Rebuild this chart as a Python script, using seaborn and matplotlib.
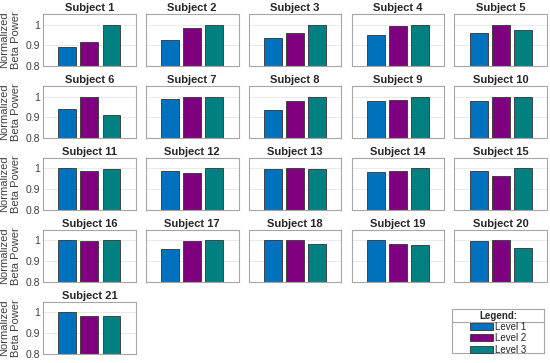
import numpy as np
import pandas as pd
import matplotlib
matplotlib.use("Agg")
import matplotlib.pyplot as plt
from matplotlib.patches import Patch
import seaborn as sns

# ===========================================================
# Data (normalized beta power per level)
# ===========================================================
subjects = [f"Subject {i}" for i in range(1, 22)]
levels = ["Level 1", "Level 2", "Level 3"]

level1 = [0.890, 0.924, 0.935, 0.948, 0.957,
          0.941, 0.987, 0.933, 0.979, 0.976,
          1.000, 0.990, 0.998, 0.984, 0.990,
          1.000, 0.960, 1.000, 1.000, 0.998,
          1.000]
level2 = [0.916, 0.984, 0.960, 0.992, 1.000,
          1.000, 1.000, 0.979, 0.983, 1.000,
          0.989, 0.979, 1.000, 0.986, 0.965,
          0.998, 0.995, 1.000, 0.984, 1.000,
          0.981]
level3 = [1.000, 1.000, 1.000, 1.000, 0.975,
          0.911, 0.997, 1.000, 1.000, 0.997,
          0.995, 1.000, 0.998, 1.000, 1.000,
          1.000, 1.000, 0.982, 0.980, 0.965,
          0.983]

y_ticks = [0.8, 0.9, 1.0]
y_tick_labels = ["0.8", "0.9", "1"]

colors = ["#0072BD", "#7E007E", "#008080"]

df = pd.DataFrame({
    "subject": np.repeat(subjects, 3),
    "level": levels * len(subjects),
    "value": np.ravel(np.column_stack([level1, level2, level3])),
})

# ===========================================================
# Figure
# ===========================================================
sns.set_style("white")
plt.rcParams["font.family"] = ["Liberation Sans", "DejaVu Sans"]

fig, axes = plt.subplots(5, 5, figsize=(5.5, 3.63), dpi=100)
fig.subplots_adjust(left=0.078, right=0.995, top=0.961, bottom=0.025,
                    wspace=0.108, hspace=0.385)

spine_col = "#a6a6a6"
tick_col = "#404040"

for i, ax in enumerate(axes.flat):
    if i >= len(subjects):
        ax.axis("off")
        continue
    sub = df[df["subject"] == subjects[i]]
    sns.barplot(data=sub, x="level", y="value", hue="level", palette=colors,
                order=levels, hue_order=levels, legend=False, width=0.8,
                saturation=1, edgecolor="#333333", linewidth=0.6,
                errorbar=None, ax=ax)
    ax.set_xlim(-1.1, 3.1)
    ax.set_ylim(0.8, 1.05)
    ax.set_xticks([])
    ax.set_yticks(y_ticks)
    ax.yaxis.grid(True, color="#e6e6e6", linewidth=0.6)
    ax.set_axisbelow(True)
    ax.set_xlabel("")
    ax.set_title(subjects[i], fontsize=8, fontweight="bold", pad=2.5)
    for s in ax.spines.values():
        s.set_color(spine_col)
        s.set_linewidth(0.8)
    ax.tick_params(axis="y", direction="in", length=2, color=spine_col,
                   labelsize=7.5, labelcolor=tick_col, pad=2)
    if i % 5 == 0:
        ax.set_yticklabels(y_tick_labels)
        ax.set_ylabel("Normalized\nBeta Power", fontsize=8, color=tick_col,
                      labelpad=3, linespacing=1.25)
    else:
        ax.set_yticklabels([])
        ax.set_ylabel("")

# ===========================================================
# Legend box (bottom right)
# ===========================================================
lax = fig.add_axes([0.822, 0.027, 0.167, 0.121])
lax.set_xlim(0, 1)
lax.set_ylim(0, 1)
lax.set_xticks([])
lax.set_yticks([])
for s in lax.spines.values():
    s.set_color(spine_col)
    s.set_linewidth(0.8)
lax.axhline(0.70, color=spine_col, linewidth=0.8)
lax.text(0.5, 0.85, "Legend:", ha="center", va="center",
         fontsize=7, fontweight="bold")
handles = [Patch(facecolor=c, edgecolor="#333333", linewidth=0.6) for c in colors]
lax.legend(handles, levels, loc="center", bbox_to_anchor=(0.5, 0.34),
           frameon=False, fontsize=7, handlelength=2.3, handleheight=0.75,
           handletextpad=0.2, labelspacing=0.15, borderpad=0)

fig.savefig("out.png", dpi=100)
plt.close(fig)
